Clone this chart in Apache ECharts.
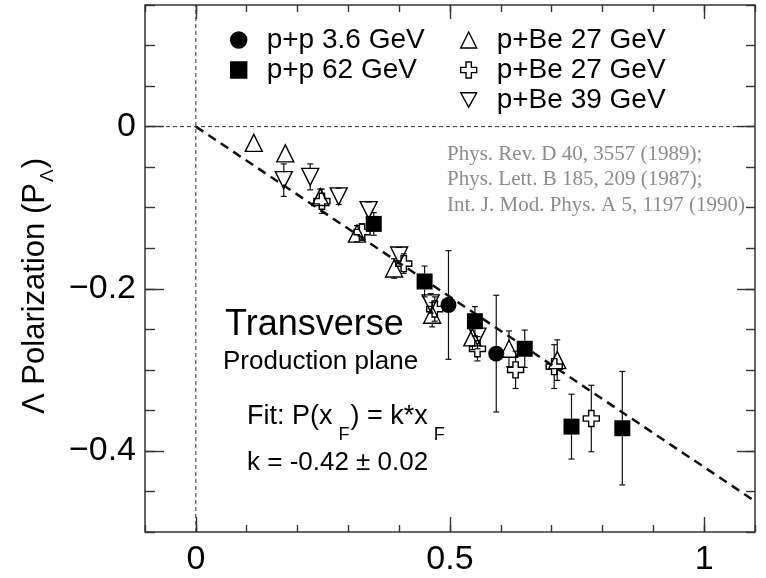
<!DOCTYPE html>
<html>
<head>
<meta charset="utf-8">
<script src="https://cdn.jsdelivr.net/npm/echarts@6/dist/echarts.min.js"></script>
<style>
  html, body { margin: 0; padding: 0; background: #fff; }
  #chart { width: 766px; height: 578px; }
</style>
</head>
<body>
<div id="chart"></div>
<script>
// ---------------- data ----------------
const pp36X   = [0.497, 0.591];
const pp36Y   = [-0.220, -0.280];
const pp36Err = [0.067, 0.072];

const pp62X   = [0.350, 0.450, 0.549, 0.647, 0.739, 0.839];
const pp62Y   = [-0.120, -0.191, -0.240, -0.274, -0.370, -0.372];
const pp62Err = [0.014, 0.019, 0.018, 0.023, 0.040, 0.070];

const pBe27TriX   = [0.114, 0.176, 0.245, 0.317, 0.390, 0.465, 0.544, 0.616, 0.711];
const pBe27TriY   = [-0.020, -0.033, -0.087, -0.132, -0.175, -0.232, -0.260, -0.274, -0.288];
const pBe27TriErr = [0.005, 0.008, 0.010, 0.010, 0.012, 0.015, 0.015, 0.022, 0.025];

const pBe27CrossX   = [0.248, 0.327, 0.409, 0.470, 0.554, 0.629, 0.705, 0.778];
const pBe27CrossY   = [-0.092, -0.130, -0.169, -0.225, -0.274, -0.300, -0.296, -0.360];
const pBe27CrossErr = [0.015, 0.010, 0.012, 0.015, 0.015, 0.023, 0.027, 0.041];

const pBe39X   = [0.173, 0.225, 0.281, 0.340, 0.400, 0.462, 0.554];
const pBe39Y   = [-0.066, -0.062, -0.086, -0.103, -0.159, -0.218, -0.259];
const pBe39Err = [0.020, 0.016, 0.010, 0.010, 0.010, 0.012, 0.015];

const fitX = [0, 1.1];
const fitY = [0, -0.462];

const seriesNames = ['p+p 3.6 GeV', 'p+p 62 GeV', 'p+Be 27 GeV', 'p+Be 27 GeV ', 'p+Be 39 GeV'];

const xRange = [-0.1, 1.1];
const yRange = [-0.5, 0.15];
const xMinorTicks = [-0.1, 0, 0.1, 0.2, 0.3, 0.4, 0.5, 0.6, 0.7, 0.8, 0.9, 1.0, 1.1];
const xMajorTicks = [0, 0.5, 1];
const yMinorTicks = [-0.5, -0.45, -0.4, -0.35, -0.3, -0.25, -0.2, -0.15, -0.1, -0.05, 0, 0.05, 0.1, 0.15];
const yMajorTicks = [-0.4, -0.2, 0];

const refLines = ['Phys. Rev. D 40, 3557 (1989);', 'Phys. Lett. B 185, 209 (1987);', 'Int. J. Mod. Phys. A 5, 1197 (1990)'];

// ---------------- helpers ----------------
const SANS = "'Liberation Sans', Arial, Helvetica, sans-serif";
const SERIF = "'Liberation Serif', 'Times New Roman', serif";
const mctx = document.createElement('canvas').getContext('2d');
function tw(text, size, family) { mctx.font = size + 'px ' + (family || SANS); return mctx.measureText(text).width; }

function zip3(a, b, c) { return a.map((v, i) => [v, b[i], c[i]]); }
function zip2(a, b) { return a.map((v, i) => [v, b[i]]); }

const HALF = 8;
function errRender(params, api) {
  const x = api.value(0), y = api.value(1), e = api.value(2);
  const c = api.coord([x, y]);
  const t = api.coord([x, y + e]);
  const b = api.coord([x, y - e]);
  const st = { stroke: '#111', lineWidth: 1.2 };
  const ch = [];
  if (c[1] - t[1] > HALF) {
    ch.push({ type: 'line', shape: { x1: c[0], y1: t[1], x2: c[0], y2: c[1] - HALF }, style: st });
    ch.push({ type: 'line', shape: { x1: c[0] - 3, y1: t[1], x2: c[0] + 3, y2: t[1] }, style: st });
  }
  if (b[1] - c[1] > HALF) {
    ch.push({ type: 'line', shape: { x1: c[0], y1: c[1] + HALF, x2: c[0], y2: b[1] }, style: st });
    ch.push({ type: 'line', shape: { x1: c[0] - 3, y1: b[1], x2: c[0] + 3, y2: b[1] }, style: st });
  }
  return { type: 'group', children: ch };
}
function errSeries(name, data) {
  return { type: 'custom', name: name, data: data, renderItem: errRender, encode: { x: 0, y: 1 }, z: 3, silent: true, clip: false };
}

const hollow = { color: 'rgba(0,0,0,0)', borderColor: '#000', borderWidth: 1.4, opacity: 1 };
const filled = { color: '#000', borderColor: '#000', borderWidth: 0, opacity: 1 };
const CROSS = 'path://M1,0L2,0L2,1L3,1L3,2L2,2L2,3L1,3L1,2L0,2L0,1L1,1Z';
const DOWN = 'path://M0,0L2,0L1,1.8Z';

function fmtMinus(v) { return v < 0 ? '\u2212' + String(Math.abs(v)) : String(v); }

function xAxisDef(pos, ticks, len, labels) {
  return {
    type: 'value', min: xRange[0], max: xRange[1], position: pos,
    axisLine: { show: false, onZero: false }, splitLine: { show: false },
    axisTick: { show: true, inside: true, length: len, customValues: ticks, lineStyle: { color: '#333', width: 1.4 } },
    axisLabel: labels ? { show: true, customValues: labels, fontSize: 34, color: '#000', fontFamily: SANS, margin: 11, formatter: fmtMinus } : { show: false }
  };
}
function yAxisDef(pos, ticks, len, labels) {
  return {
    type: 'value', min: yRange[0], max: yRange[1], position: pos,
    axisLine: { show: false, onZero: false }, splitLine: { show: false },
    axisTick: { show: true, inside: true, length: len, customValues: ticks, lineStyle: { color: '#333', width: 1.4 } },
    axisLabel: labels ? { show: true, customValues: labels, fontSize: 34, color: '#000', fontFamily: SANS, margin: 9, formatter: fmtMinus } : { show: false }
  };
}

// ---------------- text graphics ----------------
function textEl(text, x, y, size, family, fill) {
  return { type: 'text', x: x, y: y, silent: true, style: { text: text, font: size + 'px ' + family, fill: fill || '#000', align: 'left', verticalAlign: 'middle' } };
}

const graphics = [];
graphics.push(textEl('Transverse', 225, 325, 36, SANS));
graphics.push(textEl('Production plane', 223, 362, 26, SANS));

// Fit: P(x_F) = k*x_F
(function () {
  const M = 27, S = 18;
  let x = 247; const y = 417; const dy = 18;
  const a = 'Fit: P(x';
  graphics.push(textEl(a, x, y, M, SANS)); x += tw(a, M) + 6;
  graphics.push(textEl('F', x, y + dy, S, SANS)); x += tw('F', S) + 1;
  const b = ') = k*x';
  graphics.push(textEl(b, x, y, M, SANS)); x += tw(b, M) + 6;
  graphics.push(textEl('F', x, y + dy, S, SANS));
})();
graphics.push(textEl('k = -0.42 \u00b1 0.02', 247, 463, 26, SANS));

refLines.forEach((t, i) => graphics.push(textEl(t, 447, 154 + i * 25.5, 21, SERIF, '#8c8c8c')));

// Y axis title (rotated) with subscript
(function () {
  const M = 31, S = 19;
  const a = '\u039b Polarization (P', s = '\u039b', b = ')';
  const wa = tw(a, M), ws = tw(s, S), wb = tw(b, M);
  const total = wa + 1 + ws + 1 + wb;
  let lx = -total / 2;
  const kids = [];
  kids.push(textEl(a, lx, 0, M, SANS)); lx += wa + 1;
  kids.push(textEl(s, lx, 13, S, SANS)); lx += ws + 1;
  kids.push(textEl(b, lx, 0, M, SANS));
  graphics.push({ type: 'group', x: 35, y: 286, rotation: Math.PI / 2, children: kids });
})();

// ---------------- chart ----------------
const chart = echarts.init(document.getElementById('chart'), null, { renderer: 'canvas' });
const legendCommon = {
  orient: 'vertical', itemWidth: 16, itemHeight: 16, itemGap: 0, padding: 0, selectedMode: false,
  textStyle: { fontSize: 28, color: '#000', fontFamily: SANS, lineHeight: 30, padding: [0, 0, 0, 15] },
  itemStyle: { borderWidth: 1.4 }
};
const option = {
  animation: false,
  backgroundColor: '#fff',
  grid: { left: 145, right: 11, top: 5, bottom: 46, show: true, borderColor: '#333', borderWidth: 1.5, backgroundColor: 'rgba(0,0,0,0)', containLabel: false },
  xAxis: [
    xAxisDef('bottom', xMinorTicks, 7, null),
    xAxisDef('bottom', xMajorTicks, 15, xMajorTicks),
    xAxisDef('top', xMinorTicks, 7, null),
    xAxisDef('top', xMajorTicks, 14, null)
  ],
  yAxis: [
    yAxisDef('left', yMinorTicks, 10, null),
    yAxisDef('left', yMajorTicks, 19, yMajorTicks),
    yAxisDef('right', yMinorTicks, 9, null),
    yAxisDef('right', yMajorTicks, 18, null)
  ],
  legend: [
    Object.assign({}, legendCommon, { data: [seriesNames[0], seriesNames[1]], left: 230, top: 25 }),
    Object.assign({}, legendCommon, { data: [seriesNames[2], seriesNames[3], seriesNames[4]], left: 460, top: 25 })
  ],
  series: [
    { type: 'line', name: 'zeroH', data: zip2([xRange[0], xRange[1]], [0, 0]), symbol: 'none', silent: true, z: 1,
      lineStyle: { color: '#333', width: 1, type: [4, 3] } },
    { type: 'line', name: 'zeroV', data: zip2([0, 0], [yRange[0], yRange[1]]), symbol: 'none', silent: true, z: 1,
      lineStyle: { color: '#333', width: 1, type: [4, 3] } },
    { type: 'line', name: 'fit', data: zip2(fitX, fitY), symbol: 'none', silent: true, z: 2,
      lineStyle: { color: '#111', width: 2.5, type: [9, 6] } },
    errSeries('e0', zip3(pp36X, pp36Y, pp36Err)),
    errSeries('e1', zip3(pp62X, pp62Y, pp62Err)),
    errSeries('e2', zip3(pBe27TriX, pBe27TriY, pBe27TriErr)),
    errSeries('e3', zip3(pBe27CrossX, pBe27CrossY, pBe27CrossErr)),
    errSeries('e4', zip3(pBe39X, pBe39Y, pBe39Err)),
    { type: 'scatter', name: seriesNames[2], data: zip2(pBe27TriX, pBe27TriY), symbol: 'triangle', symbolSize: 17, itemStyle: hollow, z: 4 },
    { type: 'scatter', name: seriesNames[3], data: zip2(pBe27CrossX, pBe27CrossY), symbol: CROSS, symbolSize: 16, itemStyle: hollow, z: 4 },
    { type: 'scatter', name: seriesNames[4], data: zip2(pBe39X, pBe39Y), symbol: DOWN, symbolSize: 17, itemStyle: hollow, z: 4 },
    { type: 'scatter', name: seriesNames[0], data: zip2(pp36X, pp36Y), symbol: 'circle', symbolSize: 16, itemStyle: filled, z: 5 },
    { type: 'scatter', name: seriesNames[1], data: zip2(pp62X, pp62Y), symbol: 'rect', symbolSize: 16, itemStyle: filled, z: 5 }
  ],
  graphic: graphics
};
chart.setOption(option);
</script>
</body>
</html>
